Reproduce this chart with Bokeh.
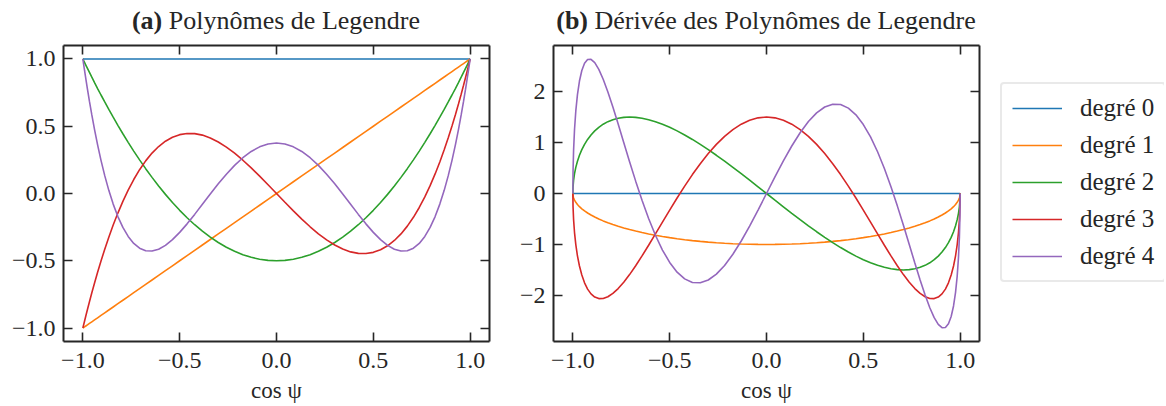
from bokeh.plotting import figure
from bokeh.models import (Range1d, LinearAxis, FixedTicker, CustomJSTickFormatter,
                          Legend, LegendItem, Div)
from bokeh.layouts import row, column
from bokeh.embed import file_html
from bokeh.resources import INLINE

# ---------------- data ----------------
X = [-1.0, -0.99905, -0.99619, -0.99144, -0.98481, -0.9763, -0.96593, -0.95372,
     -0.93969, -0.92388, -0.90631, -0.88701, -0.86603, -0.84339, -0.81915, -0.79335,
     -0.76604, -0.73728, -0.70711, -0.67559, -0.64279, -0.60876, -0.57358, -0.5373,
     -0.5, -0.46175, -0.42262, -0.38268, -0.34202, -0.30071, -0.25882, -0.21644,
     -0.17365, -0.13053, -0.08716, -0.04362, 0.0, 0.04362, 0.08716, 0.13053,
     0.17365, 0.21644, 0.25882, 0.30071, 0.34202, 0.38268, 0.42262, 0.46175, 0.5,
     0.5373, 0.57358, 0.60876, 0.64279, 0.67559, 0.70711, 0.73728, 0.76604, 0.79335,
     0.81915, 0.84339, 0.86603, 0.88701, 0.90631, 0.92388, 0.93969, 0.95372,
     0.96593, 0.9763, 0.98481, 0.99144, 0.99619, 0.99905, 1.0]

# (a) Legendre polynomials
P0 = [1.0, 1.0, 1.0, 1.0, 1.0, 1.0, 1.0, 1.0, 1.0, 1.0, 1.0, 1.0, 1.0, 1.0, 1.0,
      1.0, 1.0, 1.0, 1.0, 1.0, 1.0, 1.0, 1.0, 1.0, 1.0, 1.0, 1.0, 1.0, 1.0, 1.0,
      1.0, 1.0, 1.0, 1.0, 1.0, 1.0, 1.0, 1.0, 1.0, 1.0, 1.0, 1.0, 1.0, 1.0, 1.0,
      1.0, 1.0, 1.0, 1.0, 1.0, 1.0, 1.0, 1.0, 1.0, 1.0, 1.0, 1.0, 1.0, 1.0, 1.0,
      1.0, 1.0, 1.0, 1.0, 1.0, 1.0, 1.0, 1.0, 1.0, 1.0, 1.0, 1.0, 1.0]
P1 = [-1.0, -0.99905, -0.99619, -0.99144, -0.98481, -0.9763, -0.96593, -0.95372,
      -0.93969, -0.92388, -0.90631, -0.88701, -0.86603, -0.84339, -0.81915, -0.79335,
      -0.76604, -0.73728, -0.70711, -0.67559, -0.64279, -0.60876, -0.57358, -0.5373,
      -0.5, -0.46175, -0.42262, -0.38268, -0.34202, -0.30071, -0.25882, -0.21644,
      -0.17365, -0.13053, -0.08716, -0.04362, 0.0, 0.04362, 0.08716, 0.13053,
      0.17365, 0.21644, 0.25882, 0.30071, 0.34202, 0.38268, 0.42262, 0.46175, 0.5,
      0.5373, 0.57358, 0.60876, 0.64279, 0.67559, 0.70711, 0.73728, 0.76604, 0.79335,
      0.81915, 0.84339, 0.86603, 0.88701, 0.90631, 0.92388, 0.93969, 0.95372,
      0.96593, 0.9763, 0.98481, 0.99144, 0.99619, 0.99905, 1.0]
P2 = [1.0, 0.99714, 0.9886, 0.97445, 0.95478, 0.92973, 0.89952, 0.86436, 0.82453,
      0.78033, 0.73209, 0.68019, 0.625, 0.56697, 0.50652, 0.44412, 0.38023, 0.31537,
      0.25, 0.18463, 0.11977, 0.05589, -0.00652, -0.06697, -0.125, -0.18019,
      -0.23209, -0.28033, -0.32453, -0.36436, -0.39952, -0.42973, -0.45478,
      -0.47445, -0.4886, -0.49714, -0.5, -0.49714, -0.4886, -0.47445, -0.45478,
      -0.42973, -0.39952, -0.36436, -0.32453, -0.28033, -0.23209, -0.18019, -0.125,
      -0.06697, -0.00652, 0.05589, 0.11977, 0.18463, 0.25, 0.31537, 0.38023,
      0.44412, 0.50652, 0.56697, 0.625, 0.68019, 0.73209, 0.78033, 0.82453,
      0.86436, 0.89952, 0.92973, 0.95478, 0.97445, 0.9886, 0.99714, 1.0]
P3 = [-1.0, -0.99429, -0.97728, -0.94922, -0.91057, -0.86196, -0.80416, -0.73812,
      -0.66488, -0.58563, -0.50163, -0.41421, -0.32476, -0.23469, -0.14542,
      -0.05833, 0.02523, 0.104, 0.17678, 0.2425, 0.30022, 0.34914, 0.38861, 0.41816,
      0.4375, 0.44649, 0.44522, 0.43392, 0.41301, 0.38308, 0.34488, 0.29931,
      0.24738, 0.19023, 0.12908, 0.06522, 0.0, -0.06522, -0.12908, -0.19023,
      -0.24738, -0.29931, -0.34488, -0.38308, -0.41301, -0.43392, -0.44522,
      -0.44649, -0.4375, -0.41816, -0.38861, -0.34914, -0.30022, -0.2425, -0.17678,
      -0.104, -0.02523, 0.05833, 0.14542, 0.23469, 0.32476, 0.41421, 0.50163,
      0.58563, 0.66488, 0.73812, 0.80416, 0.86196, 0.91057, 0.94922, 0.97728,
      0.99429, 1.0]
P4 = [1.0, 0.9905, 0.96227, 0.91609, 0.85321, 0.77537, 0.6847, 0.58365, 0.47498,
      0.3616, 0.24653, 0.13283, 0.02344, -0.07883, -0.17142, -0.2521, -0.319,
      -0.37071, -0.40625, -0.42518, -0.42753, -0.41387, -0.38518, -0.34297,
      -0.28906, -0.22566, -0.15521, -0.08035, -0.0038, 0.07168, 0.14343, 0.20893,
      0.2659, 0.31238, 0.34676, 0.36788, 0.375, 0.36788, 0.34676, 0.31238, 0.2659,
      0.20893, 0.14343, 0.07168, -0.0038, -0.08035, -0.15521, -0.22566, -0.28906,
      -0.34297, -0.38518, -0.41387, -0.42753, -0.42518, -0.40625, -0.37071, -0.319,
      -0.2521, -0.17142, -0.07883, 0.02344, 0.13283, 0.24653, 0.3616, 0.47498,
      0.58365, 0.6847, 0.77537, 0.85321, 0.91609, 0.96227, 0.9905, 1.0]

# (b) derivatives
D0 = [0.0, 0.0, 0.0, 0.0, 0.0, 0.0, 0.0, 0.0, 0.0, 0.0, 0.0, 0.0, 0.0, 0.0, 0.0,
      0.0, 0.0, 0.0, 0.0, 0.0, 0.0, 0.0, 0.0, 0.0, 0.0, 0.0, 0.0, 0.0, 0.0, 0.0,
      0.0, 0.0, 0.0, 0.0, 0.0, 0.0, 0.0, 0.0, 0.0, 0.0, 0.0, 0.0, 0.0, 0.0, 0.0,
      0.0, 0.0, 0.0, 0.0, 0.0, 0.0, 0.0, 0.0, 0.0, 0.0, 0.0, 0.0, 0.0, 0.0, 0.0,
      0.0, 0.0, 0.0, 0.0, 0.0, 0.0, 0.0, 0.0, 0.0, 0.0, 0.0, 0.0, 0.0]
D1 = [0.0, -0.04362, -0.08716, -0.13053, -0.17365, -0.21644, -0.25882, -0.30071,
      -0.34202, -0.38268, -0.42262, -0.46175, -0.5, -0.5373, -0.57358, -0.60876,
      -0.64279, -0.67559, -0.70711, -0.73728, -0.76604, -0.79335, -0.81915,
      -0.84339, -0.86603, -0.88701, -0.90631, -0.92388, -0.93969, -0.95372,
      -0.96593, -0.9763, -0.98481, -0.99144, -0.99619, -0.99905, -1.0, -0.99905,
      -0.99619, -0.99144, -0.98481, -0.9763, -0.96593, -0.95372, -0.93969,
      -0.92388, -0.90631, -0.88701, -0.86603, -0.84339, -0.81915, -0.79335,
      -0.76604, -0.73728, -0.70711, -0.67559, -0.64279, -0.60876, -0.57358,
      -0.5373, -0.5, -0.46175, -0.42262, -0.38268, -0.34202, -0.30071, -0.25882,
      -0.21644, -0.17365, -0.13053, -0.08716, -0.04362, 0.0]
D2 = [0.0, 0.13074, 0.26047, 0.38823, 0.51303, 0.63393, 0.75, 0.86037, 0.96418,
      1.06067, 1.14906, 1.22873, 1.29904, 1.35947, 1.40954, 1.4489, 1.47721,
      1.49429, 1.5, 1.49429, 1.47721, 1.4489, 1.40954, 1.35947, 1.29904, 1.22873,
      1.14906, 1.06067, 0.96418, 0.86037, 0.75, 0.63393, 0.51303, 0.38823, 0.26047,
      0.13074, 0.0, -0.13074, -0.26047, -0.38823, -0.51303, -0.63393, -0.75,
      -0.86037, -0.96418, -1.06067, -1.14906, -1.22873, -1.29904, -1.35947,
      -1.40954, -1.4489, -1.47721, -1.49429, -1.5, -1.49429, -1.47721, -1.4489,
      -1.40954, -1.35947, -1.29904, -1.22873, -1.14906, -1.06067, -0.96418,
      -0.86037, -0.75, -0.63393, -0.51303, -0.38823, -0.26047, -0.13074, 0.0]
D3 = [0.0, -0.2611, -0.51797, -0.76647, -1.00262, -1.22259, -1.42289, -1.6003,
      -1.75206, -1.87578, -1.9696, -2.03211, -2.0625, -2.06044, -2.02621, -1.96056,
      -1.86485, -1.74088, -1.591, -1.41791, -1.22477, -1.01503, -0.79247, -0.56102,
      -0.32476, -0.08789, 0.14542, 0.37107, 0.58512, 0.78378, 0.96361, 1.12142,
      1.2545, 1.36049, 1.43755, 1.48431, 1.5, 1.48431, 1.43755, 1.36049, 1.2545,
      1.12142, 0.96361, 0.78378, 0.58512, 0.37107, 0.14542, -0.08789, -0.32476,
      -0.56102, -0.79247, -1.01503, -1.22477, -1.41791, -1.591, -1.74088, -1.86485,
      -1.96056, -2.02621, -2.06044, -2.0625, -2.03211, -1.9696, -1.87578, -1.75206,
      -1.6003, -1.42289, -1.22259, -1.00262, -0.76647, -0.51797, -0.2611, 0.0]
D4 = [0.0, 0.43433, 0.8567, 1.25551, 1.61987, 1.93985, 2.20694, 2.41406, 2.55602,
      2.62944, 2.63305, 2.56754, 2.43571, 2.24216, 1.99341, 1.69746, 1.36368,
      1.00248, 0.625, 0.24276, -0.13266, -0.49004, -0.8188, -1.10927, -1.35317,
      -1.5436, -1.6755, -1.74556, -1.75253, -1.69708, -1.58194, -1.41158, -1.19234,
      -0.93199, -0.63964, -0.32538, 0.0, 0.32538, 0.63964, 0.93199, 1.19234,
      1.41158, 1.58194, 1.69708, 1.75253, 1.74556, 1.6755, 1.5436, 1.35317, 1.10927,
      0.8188, 0.49004, 0.13266, -0.24276, -0.625, -1.00248, -1.36368, -1.69746,
      -1.99341, -2.24216, -2.43571, -2.56754, -2.63305, -2.62944, -2.55602,
      -2.41406, -2.20694, -1.93985, -1.61987, -1.25551, -0.8567, -0.43433, 0.0]

LABELS = ["degré 0", "degré 1", "degré 2", "degré 3", "degré 4"]
TITLE_TAGS = ["(a)", "(b)"]
TITLES = ["Polynômes de Legendre", "Dérivée des Polynômes de Legendre"]
XLABEL = "cos ψ"
X_TICKS = [-1.0, -0.5, 0.0, 0.5, 1.0]
Y_TICKS_A = [-1.0, -0.5, 0.0, 0.5, 1.0]
Y_TICKS_B = [-2, -1, 0, 1, 2]

# ---------------- style ----------------
COLORS = ["#1f77b4", "#ff7f0e", "#2ca02c", "#d62728", "#9467bd"]
FONT = "Liberation Serif"
FS = "24px"
INK = "#262626"
TITLE_H = 38
FIG_H = 406 - TITLE_H


def fmt(decimals):
    return CustomJSTickFormatter(code=(
        "const s = Math.abs(tick).toFixed(%d);"
        "return (tick < -1e-9) ? '\\u2212' + s : s;" % decimals))


def make_title(tag, title, width, left, right):
    html = ('<div style="width:%dpx; margin-left:%dpx; padding-top:8px; '
            'text-align:center; font-family:\'%s\'; font-size:26px; '
            'line-height:26px; color:%s; white-space:nowrap;">'
            '<b>%s</b>&nbsp;%s</div>' % (width - left - right, left, FONT, INK, tag, title))
    return Div(text=html, width=width, height=TITLE_H, margin=0)


def make_panel(width, border_left, border_right, yr, yticks, ydec, series):
    p = figure(width=width, height=FIG_H, output_backend="svg",
               toolbar_location=None, x_range=Range1d(-1.1, 1.1),
               y_range=Range1d(*yr), min_border_left=border_left,
               min_border_right=border_right, min_border_top=7,
               min_border_bottom=FIG_H - 7 - 296)
    p.add_layout(LinearAxis(), "above")
    p.add_layout(LinearAxis(), "right")
    p.grid.visible = False
    p.outline_line_color = None
    for ax in p.axis:
        ax.axis_line_color = INK
        ax.axis_line_width = 2
        ax.major_tick_line_color = INK
        ax.major_tick_line_width = 1.6
        ax.major_tick_in = 9
        ax.major_tick_out = 0
        ax.minor_tick_in = 0
        ax.minor_tick_out = 0
        ax.major_label_text_font = FONT
        ax.major_label_text_font_size = FS
        ax.major_label_text_color = INK
    for ax in p.xaxis:
        ax.ticker = FixedTicker(ticks=X_TICKS)
    for ax in p.yaxis:
        ax.ticker = FixedTicker(ticks=yticks)
    p.below[0].formatter = fmt(1)
    p.left[0].formatter = fmt(ydec)
    p.below[0].major_label_standoff = 11
    p.left[0].major_label_standoff = 8
    for ax in (p.above[0], p.right[0]):
        ax.formatter = CustomJSTickFormatter(code="return '';")
        ax.major_label_standoff = 0
    xa = p.below[0]
    xa.axis_label = XLABEL
    xa.axis_label_text_font = FONT
    xa.axis_label_text_font_size = "23px"
    xa.axis_label_text_font_style = "normal"
    xa.axis_label_text_color = INK
    xa.axis_label_standoff = 7

    for ys, c in zip(series, COLORS):
        p.line(X, ys, line_color=c, line_width=1.6)
    return p


W1, W2, W3 = 499, 490, 175
p1 = make_panel(W1, 63, 10, (-1.1, 1.1), Y_TICKS_A, 1, [P0, P1, P2, P3, P4])
p2 = make_panel(W2, 54, 10, (-2.904, 2.904), Y_TICKS_B, 0, [D0, D1, D2, D3, D4])
t1 = make_title(TITLE_TAGS[0], TITLES[0], W1, 63, 10)
t2 = make_title(TITLE_TAGS[1], TITLES[1], W2, 54, 10)

# legend panel (its lines lie outside the visible range; only the legend shows)
p3 = figure(width=W3, height=406, output_backend="svg", toolbar_location=None,
            x_range=Range1d(-1.1, 1.1), y_range=Range1d(10, 11),
            x_axis_location=None, y_axis_location=None,
            min_border_left=0, min_border_right=0, min_border_top=0,
            min_border_bottom=0)
p3.grid.visible = False
p3.outline_line_color = None
items = []
for lab, ys, c in zip(LABELS, [D0, D1, D2, D3, D4], COLORS):
    r = p3.line(X, ys, line_color=c, line_width=1.6)
    items.append(LegendItem(label=lab, renderers=[r]))
legend = Legend(items=items, location=(11, 124))
legend.label_text_font = FONT
legend.label_text_font_size = "25px"
legend.label_text_color = INK
legend.glyph_width = 50
legend.glyph_height = 24
legend.label_height = 24
legend.label_width = 73
legend.label_standoff = 18
legend.spacing = 9
legend.padding = 10
legend.margin = 0
legend.border_line_color = "#d4d4d4"
legend.border_line_width = 2
legend.background_fill_color = "white"
legend.background_fill_alpha = 1.0
try:
    legend.border_radius = 4
except Exception:
    pass
p3.add_layout(legend)

layout = row(column(t1, p1), column(t2, p2), p3)
open("out.html", "w").write(file_html(layout, INLINE))
